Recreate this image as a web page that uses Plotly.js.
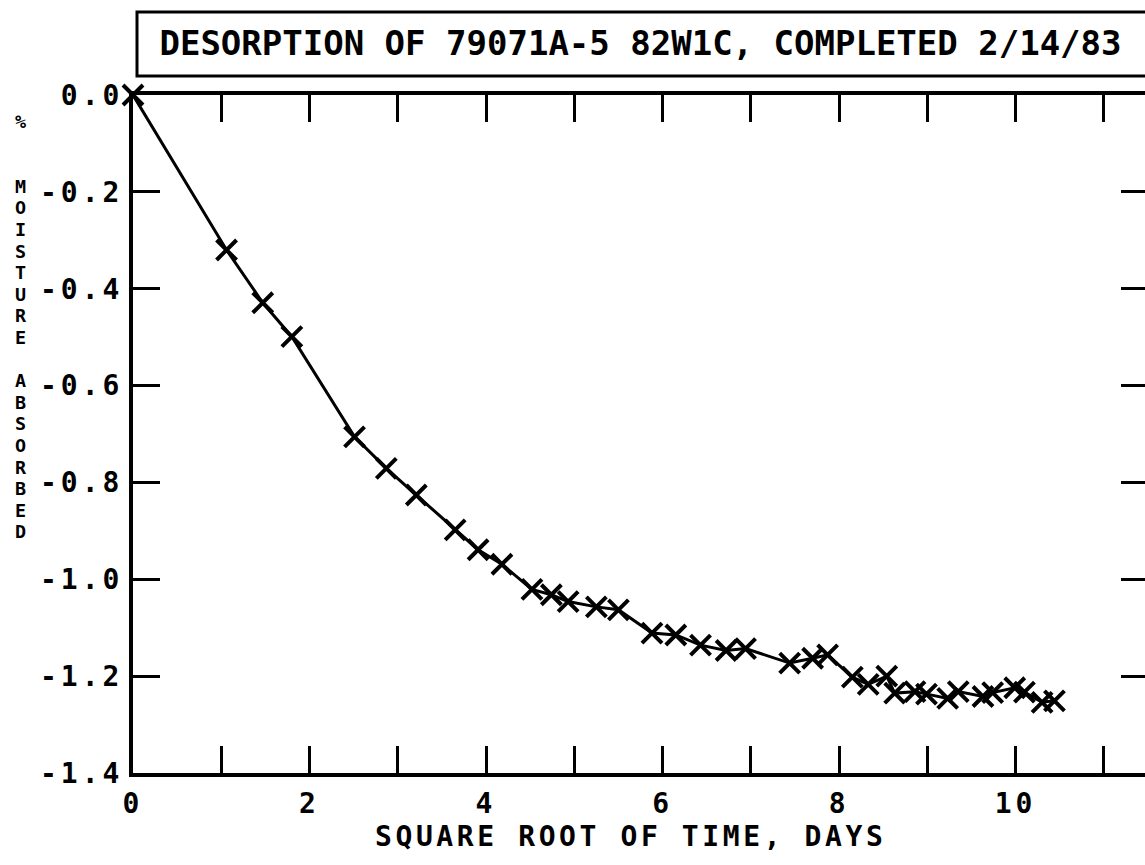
<!DOCTYPE html>
<html>
<head>
<meta charset="utf-8">
<script src="https://cdn.plot.ly/plotly-3.0.1.min.js"></script>
<style>
html, body { margin:0; padding:0; background:#fff; overflow:hidden; }
#chart { width:1160px; height:865px; }
.xtick text, .ytick text { letter-spacing: 4px; }
.annotation-text { letter-spacing: 3.6px; }
</style>
</head>
<body>
<div id="chart"></div>
<script>
// Data (x = sqrt(days), y = % moisture absorbed)
const sqrtDays = [0, 1.06, 1.47, 1.80, 2.51, 2.87, 3.21, 3.65, 3.91, 4.18, 4.52, 4.74, 4.93, 5.25, 5.50,
  5.88, 6.15, 6.43, 6.72, 6.94, 7.44, 7.70, 7.87, 8.15, 8.33, 8.54, 8.63, 8.86, 8.99, 9.23, 9.35,
  9.63, 9.74, 9.99, 10.10, 10.30, 10.44];
const moisture = [0, -0.320, -0.429, -0.499, -0.706, -0.771, -0.826, -0.898, -0.939, -0.969, -1.021, -1.032, -1.046, -1.057, -1.063,
  -1.111, -1.115, -1.136, -1.147, -1.143, -1.173, -1.163, -1.156, -1.202, -1.217, -1.200, -1.235, -1.232, -1.237, -1.246, -1.232,
  -1.242, -1.234, -1.224, -1.233, -1.254, -1.251];

const xTickVals = [0,1,2,3,4,5,6,7,8,9,10,11];
const xTickText = ['0','','2','','4','','6','','8','','10',''];
const yTickVals = [0,-0.2,-0.4,-0.6,-0.8,-1.0,-1.2,-1.4];
const yTickText = ['0.0','-0.2','-0.4','-0.6','-0.8','-1.0','-1.2','-1.4'];

const chartTitle = 'DESORPTION OF 79071A-5 82W1C, COMPLETED 2/14/83';
const xTitle = 'SQUARE ROOT OF TIME, DAYS';
const yTitle = '%  MOISTURE ABSORBED';

const FONT = '"DejaVu Sans Mono", monospace';

const trace = {
  x: sqrtDays, y: moisture, type: 'scatter', mode: 'lines+markers',
  line: {color: '#000', width: 3},
  marker: {symbol: 'x-thin', size: 20, color: '#000', line: {color: '#000', width: 4}},
  cliponaxis: false, hoverinfo: 'skip'
};

// plot area geometry (px)
const W = 1160, H = 865, L = 133, R = 12, T = 95, B = 92;
const plotH = H - T - B;
function pyToPaper(py){ return (H - B - py) / plotH; }

// vertical stacked y-axis title: one text, one letter per line
const LINE_PX = 21.6;
const yTitleHtml = yTitle.split('').map(ch =>
  ch === ' ' ? '&nbsp;' : '<span style="font-size:18.4px"><b>' + ch + '</b></span>'
).join('<br>');
const yTitleTop = 119.5 - LINE_PX / 2;
const yTitleBottom = yTitleTop + yTitle.length * LINE_PX;

const annotations = [
  {
    text: '<b>' + xTitle + '</b>', xref: 'paper', yref: 'paper',
    x: (630 - L) / (W - L - R), y: pyToPaper(836), xanchor: 'center', yanchor: 'middle',
    showarrow: false, font: {family: FONT, size: 28, color: '#000'}
  },
  {
    text: yTitleHtml, xref: 'paper', yref: 'paper',
    x: (22 - L) / (W - L - R), y: pyToPaper((yTitleTop + yTitleBottom) / 2 + 2),
    xanchor: 'center', yanchor: 'middle', showarrow: false, align: 'center',
    font: {family: FONT, size: LINE_PX / 1.3, color: '#000'}
  }
];

const layout = {
  width: W, height: H,
  margin: {l: L, r: R, t: T, b: B},
  paper_bgcolor: '#fff', plot_bgcolor: '#fff',
  showlegend: false,
  title: {
    text: '<b>' + chartTitle + '</b>', x: 0.5, xref: 'paper', xanchor: 'center',
    y: 1 - 43 / H, yref: 'container', yanchor: 'middle',
    font: {family: FONT, size: 34, color: '#000'}
  },
  xaxis: {
    range: [0, 11.5], tickvals: xTickVals, ticktext: xTickText,
    ticks: 'inside', ticklen: 27, tickwidth: 3, tickcolor: '#000',
    showline: true, linewidth: 4, linecolor: '#000', mirror: 'ticks',
    showgrid: false, zeroline: false, ticklabelstandoff: 2,
    tickfont: {family: FONT, size: 28, color: '#000', weight: 'bold'}
  },
  yaxis: {
    range: [-1.4, 0], tickvals: yTickVals, ticktext: yTickText,
    ticks: 'inside', ticklen: 27, tickwidth: 3, tickcolor: '#000',
    showline: true, linewidth: 4, linecolor: '#000', mirror: 'ticks',
    showgrid: false, zeroline: false, ticklabelstandoff: 0,
    tickfont: {family: FONT, size: 28, color: '#000', weight: 'bold'}
  },
  shapes: [{
    type: 'rect', xref: 'paper', yref: 'paper',
    x0: (137 - L) / (W - L - R), x1: 1.05, y0: pyToPaper(76), y1: pyToPaper(12),
    line: {color: '#000', width: 3}, fillcolor: 'rgba(0,0,0,0)'
  }],
  annotations: annotations
};

Plotly.newPlot('chart', [trace], layout, {displayModeBar: false, staticPlot: true});
</script>
</body>
</html>
